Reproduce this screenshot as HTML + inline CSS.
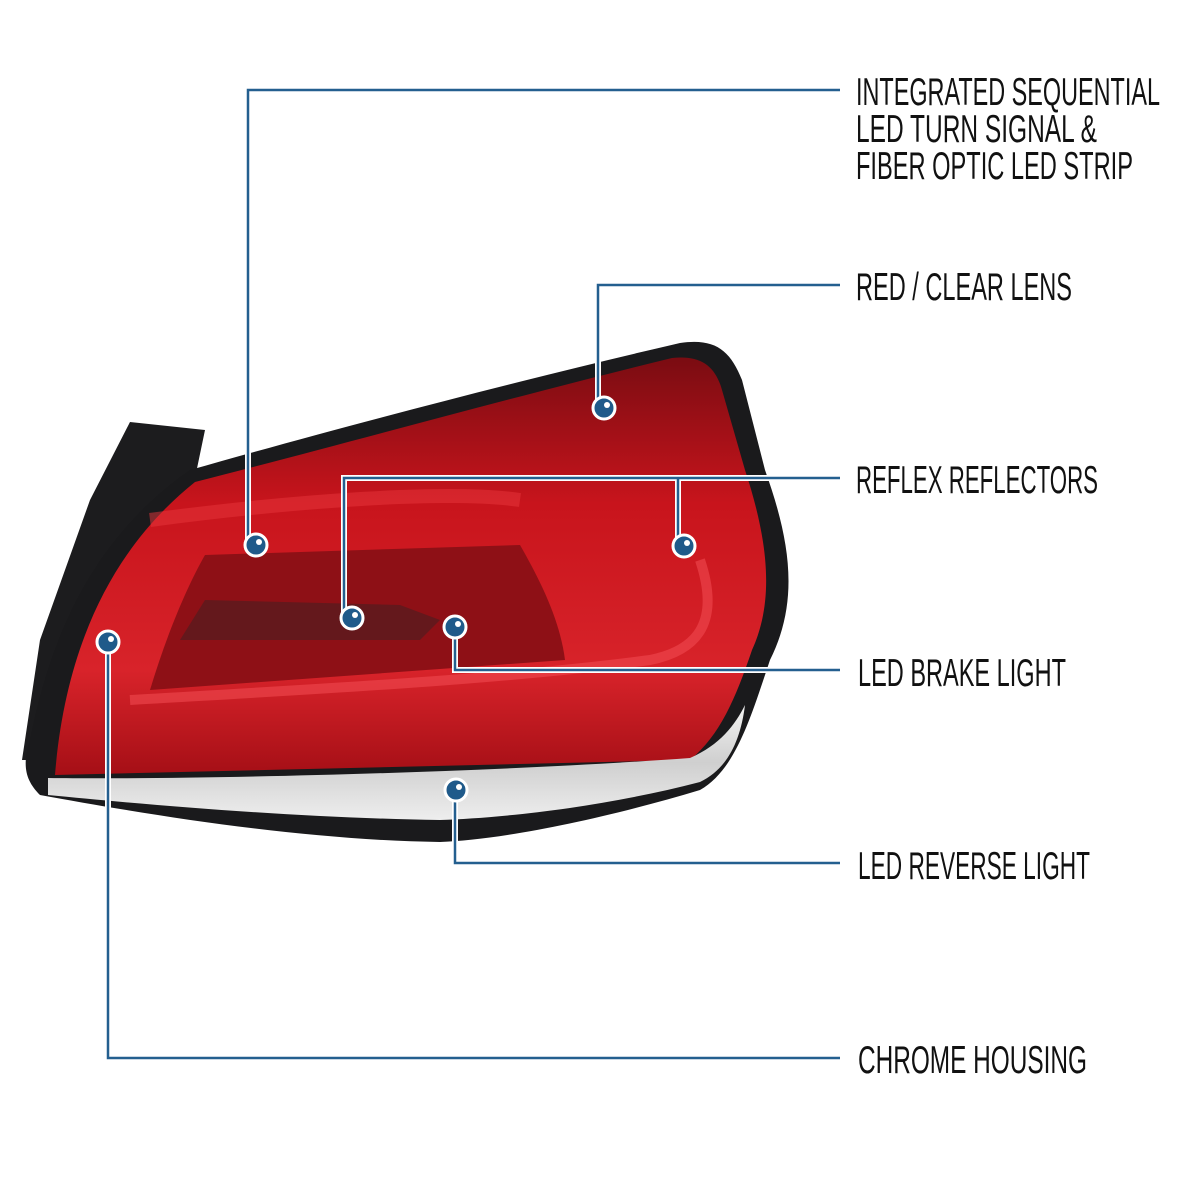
<!DOCTYPE html>
<html><head><meta charset="utf-8"><style>
html,body{margin:0;padding:0;background:#fff;width:1200px;height:1200px;overflow:hidden}
svg{display:block}
text{font-family:"Liberation Sans Narrow","Liberation Sans",sans-serif;font-size:39px;fill:#111;font-weight:normal}
</style></head><body>
<svg width="1200" height="1200" viewBox="0 0 1200 1200" xmlns="http://www.w3.org/2000/svg">
<defs>
<linearGradient id="red" x1="0" y1="0" x2="0" y2="1">
<stop offset="0" stop-color="#7a0c12"/><stop offset="0.35" stop-color="#c8141c"/><stop offset="0.75" stop-color="#d8232a"/><stop offset="1" stop-color="#a50f16"/>
</linearGradient>
<linearGradient id="chrome" x1="0" y1="0" x2="0" y2="1">
<stop offset="0" stop-color="#f4f4f4"/><stop offset="0.5" stop-color="#cfcfcf"/><stop offset="1" stop-color="#eeeeee"/>
</linearGradient>
</defs>
<path d="M130 422 L205 430 L195 478 L150 520 L95 620 L60 760 L22 760 L40 640 L90 500 Z" fill="#1c1c1e"/>
<path d="M190 470 C330 430 520 380 680 343 C715 338 730 350 742 380 L765 470 C790 540 800 600 770 660 C750 720 735 770 700 790 C600 820 500 840 440 842 C300 840 150 815 40 795 C25 780 22 765 30 740 C50 640 90 540 190 470 Z" fill="#1a1a1c"/>
<path d="M195 482 C340 445 520 395 672 358 C700 355 715 365 722 390 L745 470 C768 540 775 600 752 650 C735 700 720 735 690 760 L55 775 C65 650 110 550 195 482 Z" fill="url(#red)"/>
<path d="M205 555 L520 545 C540 580 560 620 565 660 L150 690 C165 640 185 590 205 555 Z" fill="#8e1016"/>
<path d="M205 600 L400 605 L440 620 L420 640 L180 640 Z" fill="#5a1a1e" opacity="0.8"/>
<path d="M130 700 C300 690 500 680 650 660 C700 650 720 620 700 560" fill="none" stroke="#f04a50" stroke-width="10" opacity="0.6"/>
<path d="M150 520 C300 500 450 490 520 500" fill="none" stroke="#e8353c" stroke-width="14" opacity="0.5"/>
<path d="M48 778 C200 780 500 772 690 758 C720 745 735 725 745 705 C740 745 725 770 700 782 C600 808 500 818 440 820 C300 818 150 805 48 795 Z" fill="url(#chrome)"/>
<g fill="none">
<g stroke="#fff" stroke-width="6">
<path d="M248 545 V90 H840"/><path d="M598 408 V285 H840"/><path d="M344 618 V478 H840"/><path d="M678 478 V545"/>
<path d="M455 627 V670 H840"/><path d="M455 790 V863 H840"/><path d="M108 642 V1058 H840"/>
</g>
<g stroke="#245f8f" stroke-width="2.5">
<path d="M248 545 V90 H840"/><path d="M598 408 V285 H840"/><path d="M344 618 V478 H840"/><path d="M678 478 V545"/>
<path d="M455 627 V670 H840"/><path d="M455 790 V863 H840"/><path d="M108 642 V1058 H840"/>
</g>
</g>
<g>
<g transform="translate(256,545)"><circle r="11" fill="#1f5a8a" stroke="#fff" stroke-width="3"/><circle cx="3" cy="-3" r="3" fill="#fff"/></g>
<g transform="translate(604,408)"><circle r="11" fill="#1f5a8a" stroke="#fff" stroke-width="3"/><circle cx="3" cy="-3" r="3" fill="#fff"/></g>
<g transform="translate(352,618)"><circle r="11" fill="#1f5a8a" stroke="#fff" stroke-width="3"/><circle cx="3" cy="-3" r="3" fill="#fff"/></g>
<g transform="translate(684,546)"><circle r="11" fill="#1f5a8a" stroke="#fff" stroke-width="3"/><circle cx="3" cy="-3" r="3" fill="#fff"/></g>
<g transform="translate(455,627)"><circle r="11" fill="#1f5a8a" stroke="#fff" stroke-width="3"/><circle cx="3" cy="-3" r="3" fill="#fff"/></g>
<g transform="translate(456,790)"><circle r="11" fill="#1f5a8a" stroke="#fff" stroke-width="3"/><circle cx="3" cy="-3" r="3" fill="#fff"/></g>
<g transform="translate(108,642)"><circle r="11" fill="#1f5a8a" stroke="#fff" stroke-width="3"/><circle cx="3" cy="-3" r="3" fill="#fff"/></g>
</g>
<text x="856" y="105" textLength="304" lengthAdjust="spacingAndGlyphs">INTEGRATED SEQUENTIAL</text>
<text x="856" y="142" textLength="241" lengthAdjust="spacingAndGlyphs">LED TURN SIGNAL &amp;</text>
<text x="856" y="179" textLength="277" lengthAdjust="spacingAndGlyphs">FIBER OPTIC LED STRIP</text>
<text x="856" y="300" textLength="216" lengthAdjust="spacingAndGlyphs">RED / CLEAR LENS</text>
<text x="856" y="493" textLength="242" lengthAdjust="spacingAndGlyphs">REFLEX REFLECTORS</text>
<text x="858" y="686" textLength="208" lengthAdjust="spacingAndGlyphs">LED BRAKE LIGHT</text>
<text x="858" y="879" textLength="232" lengthAdjust="spacingAndGlyphs">LED REVERSE LIGHT</text>
<text x="858" y="1073" textLength="229" lengthAdjust="spacingAndGlyphs">CHROME HOUSING</text>
</svg>
</body></html>
